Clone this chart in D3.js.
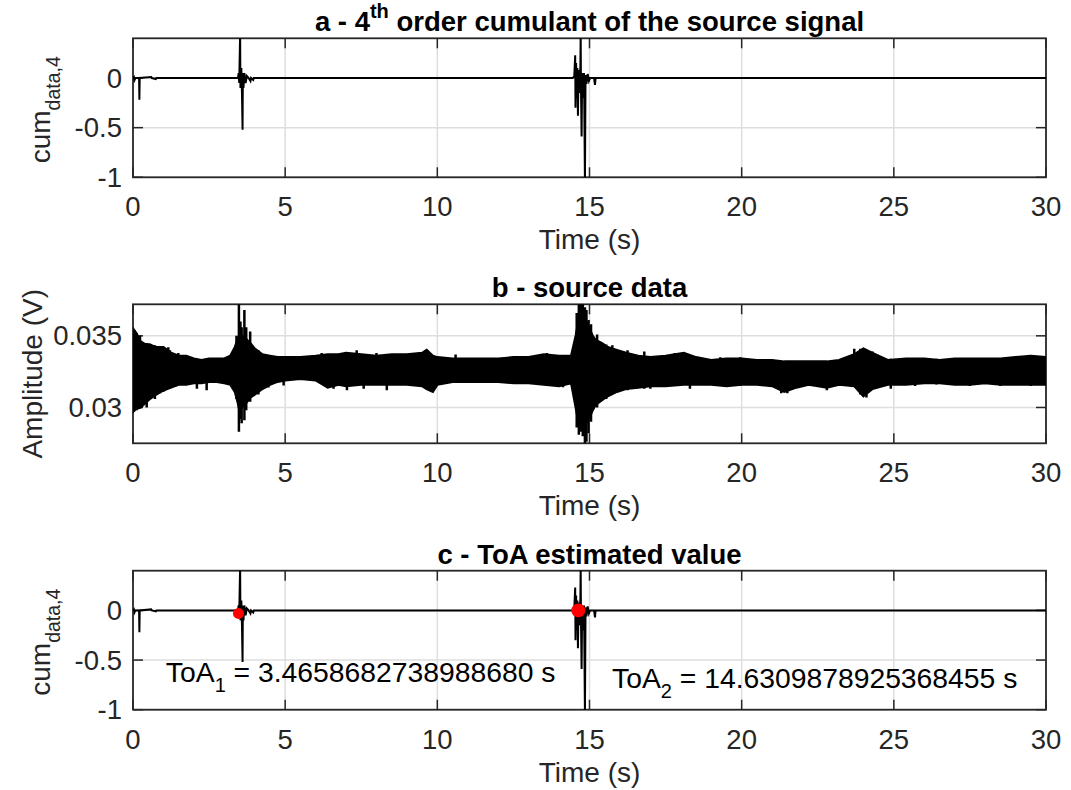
<!DOCTYPE html>
<html>
<head>
<meta charset="utf-8">
<script src="https://cdn.jsdelivr.net/npm/d3@7"></script>
<style>
    body { margin: 0; background: #fff; }
    svg text { font-family: "Liberation Sans", Arial, Helvetica, sans-serif; fill: #262626; }
</style>
</head>
<body>
<div class="container"></div>
<script>
// axis ticks
var timeTicks = [0, 5, 10, 15, 20, 25, 30];
var cumTicks = [-1, -0.5, 0];
var cumTickLabels = ["-1", "-0.5", "0"];
var ampTicks = [0.03, 0.035];
var ampTickLabels = ["0.03", "0.035"];

// 4th order cumulant
var cumTime = [0, 0.03, 0.05, 0.08, 0.2, 0.21, 0.22, 0.6, 0.62, 0.75, 0.77,
    3.45, 3.47, 3.49, 3.52, 3.53, 3.56, 3.58, 3.6, 3.61, 3.63, 3.66, 3.7, 3.74, 3.8, 3.86, 3.88, 3.95, 3.97,
    14.45, 14.5, 14.53, 14.54, 14.56, 14.58, 14.6, 14.62, 14.64, 14.66, 14.7, 14.71, 14.72, 14.74, 14.76,
    14.79, 14.82, 14.85, 14.87, 14.9, 14.94, 14.98, 15.02, 15.15, 15.18, 15.2, 30];
var cumValue = [0, 0.01, -0.02, 0, 0, -0.22, 0, 0.01, 0, -0.01, 0,
    0, 0.05, -0.05, 0.45, -0.1, 0.1, -0.15, -0.52, 0.05, -0.1, 0.05, -0.05, 0.02, 0, -0.03, 0, -0.02, 0,
    0, 0.02, 0.23, -0.3, 0.15, -0.2, 0.1, -0.38, 0.08, -0.15, 0.12, 0.45, -0.1, -0.59, 0.05,
    -0.2, 0.05, -1.05, 0.03, -0.06, 0.04, -0.03, 0, 0, -0.07, 0, 0];

// source data envelope (V)
var ampTime = [0, 0.1, 0.25, 0.4, 0.55, 0.75, 1, 1.25, 1.5, 1.75, 2, 2.25, 2.5, 2.75, 3, 3.2, 3.35, 3.45, 3.5,
    3.58, 3.66, 3.75, 3.85, 4, 4.25, 4.5, 4.75, 5, 5.5, 6, 6.4, 6.75, 7, 7.5, 8, 8.5, 9, 9.5, 9.65, 9.85,
    10, 10.5, 11, 11.5, 12, 12.5, 13, 13.5, 14, 14.4, 14.55, 14.62, 14.7, 14.8, 14.88, 15, 15.1, 15.2,
    15.4, 15.6, 15.9, 16.2, 16.6, 17, 17.5, 18.1, 18.5, 19, 19.5, 20, 20.5, 21, 21.4, 21.8, 22.2, 22.8,
    23.2, 23.7, 24, 24.3, 24.8, 25.4, 26, 26.5, 27, 27.5, 28, 28.5, 29, 29.5, 30];
var ampUpper = [0.0355, 0.0352, 0.0346, 0.0344, 0.0344, 0.0342, 0.0342, 0.0338, 0.0336, 0.0336, 0.0334,
    0.0333, 0.0334, 0.0334, 0.0334, 0.0336, 0.0342, 0.0348, 0.0351, 0.035, 0.0349, 0.0347, 0.0345, 0.0341,
    0.0337, 0.0336, 0.0335, 0.0335, 0.0335, 0.0336, 0.0337, 0.0337, 0.0338, 0.0337, 0.0336, 0.0337, 0.0337,
    0.0338, 0.034, 0.0336, 0.0335, 0.0334, 0.0334, 0.0334, 0.0334, 0.0335, 0.0335, 0.0337, 0.0336, 0.0336,
    0.035, 0.0358, 0.0362, 0.0362, 0.036, 0.0355, 0.035, 0.0347, 0.0345, 0.0342, 0.034, 0.0338, 0.0336,
    0.0335, 0.0336, 0.0338, 0.0335, 0.0333, 0.0334, 0.0334, 0.0333, 0.0333, 0.0332, 0.0332, 0.0332, 0.0332,
    0.0333, 0.0337, 0.0341, 0.0338, 0.0333, 0.0334, 0.0334, 0.0333, 0.0334, 0.0334, 0.0334, 0.0334, 0.0335,
    0.0336, 0.0335];
var ampLower = [0.0297, 0.0299, 0.03, 0.0303, 0.0306, 0.0309, 0.0312, 0.0314, 0.0316, 0.0316, 0.0317,
    0.0317, 0.0318, 0.0318, 0.0317, 0.0316, 0.0311, 0.0303, 0.0298, 0.03, 0.0302, 0.0304, 0.0307, 0.0309,
    0.0313, 0.0316, 0.0318, 0.0319, 0.032, 0.0319, 0.0314, 0.0316, 0.0315, 0.0316, 0.0316, 0.0316, 0.0316,
    0.0315, 0.0313, 0.0311, 0.0316, 0.0318, 0.0318, 0.0318, 0.0318, 0.0317, 0.0317, 0.0316, 0.0315, 0.0317,
    0.03, 0.0292, 0.0288, 0.0287, 0.0289, 0.0293, 0.0298, 0.0302, 0.0305, 0.0308, 0.0311, 0.0313, 0.0314,
    0.0315, 0.0315, 0.0316, 0.0316, 0.0316, 0.0315, 0.0316, 0.0316, 0.0315, 0.0311, 0.0314, 0.0316, 0.0314,
    0.0316, 0.0315, 0.0308, 0.0313, 0.0316, 0.0316, 0.0317, 0.0317, 0.0316, 0.0316, 0.0317, 0.0316, 0.0316,
    0.0316, 0.0316];

// single excursions poking out of the band (V)
var spikeTime = [0.05, 0.12, 0.23, 0.45, 0.72, 0.89, 1, 1.16, 1.21, 1.49, 2.1, 2.42, 3.19,
    3.4, 3.48, 3.53, 3.57, 3.66, 3.72, 3.85, 4.12,
    4.45, 4.95, 6.2, 6.53, 6.59, 6.8, 7.03, 7.35, 7.58, 8, 8.34, 9.62, 9.85, 10.6, 13.6, 14.13,
    14.58, 14.65, 14.72, 14.78, 14.85, 14.9, 14.97, 15.05, 15.25,
    15.55, 15.75, 16.25, 16.8, 17, 17.8, 18, 18.3, 19.3, 19.95, 21.3, 21.5, 22.8, 23.7, 23.9, 24.1, 24.3,
    24.9, 25.7, 26.4, 27.5, 28.5, 29.5, 29.6];
var spikeTop = [0.0354, 0.0352, 0.035, 0.0345, 0.03435, 0.0342, 0.0342, 0.0342, 0.034, 0.0338, 0.0334,
    0.0334, 0.0335,
    0.035, 0.0372, 0.036, 0.0356, 0.0368, 0.0356, 0.0353, 0.034,
    0.0336, 0.0335, 0.0338, 0.0337, 0.0336, 0.0338, 0.0337, 0.034, 0.0337,
    0.0338, 0.0336, 0.034, 0.0335, 0.0337, 0.0338, 0.0335,
    0.0366, 0.0372, 0.0372, 0.0372, 0.037, 0.0368, 0.0361, 0.0358, 0.0351,
    0.0344, 0.03435, 0.034, 0.0339, 0.0335,
    0.0338, 0.0338, 0.0335, 0.0335, 0.0335, 0.0332, 0.0332, 0.0332, 0.0341, 0.0341, 0.034, 0.0339, 0.0334,
    0.0334, 0.0334, 0.0334, 0.0334, 0.0336, 0.0336];
var spikeBottom = [0.0298, 0.0298, 0.0301, 0.03, 0.0306, 0.031, 0.0311, 0.0313, 0.0313, 0.0316, 0.0313,
    0.0312, 0.0316,
    0.0306, 0.0283, 0.0292, 0.0289, 0.0291, 0.0298, 0.0304, 0.0309,
    0.0314, 0.03154, 0.0317, 0.0316, 0.0313, 0.0316, 0.0312, 0.0316, 0.0313,
    0.0316, 0.0312, 0.0314, 0.0311, 0.0317, 0.0315, 0.03142,
    0.0286, 0.0281, 0.0283, 0.028, 0.0275, 0.0276, 0.0282, 0.029, 0.03,
    0.0306, 0.031, 0.0312, 0.0313, 0.0313,
    0.0315, 0.0316, 0.0313, 0.0315, 0.0315, 0.031, 0.031, 0.0312, 0.0315, 0.0309, 0.0307, 0.0313, 0.0313,
    0.0315, 0.0316, 0.0315, 0.0315, 0.0315, 0.0316];

// estimated ToA
var toaTime = [3.4658682738988680, 14.6309878925368455];
var toaValue = [-0.03, 0];
var toaText = ["3.4658682738988680", "14.6309878925368455"];
var toaTextTime = [1.08, 15.74];
var toaTextValue = [-0.72, -0.78];

var width = 1071, height = 790;
var left = 133, right = 1046, panelHeight = 139;
var panelTops = [38.3, 304.3, 570.7];
var axisColor = "#262626";
var gridColor = "#dedede";

var svg = d3.select(".container")
    .append("svg")
    .attr("width", width)
    .attr("height", height);

var x = d3.scaleLinear().domain([0, 30]).range([left, right]);

function makePanel(idx, yDomain, yTicks, yTickLabels) {
    var top = panelTops[idx];
    var bottom = top + panelHeight;
    var y = d3.scaleLinear().domain(yDomain).range([bottom, top]);
    var g = svg.append("g").attr("class", "panel" + idx);

    g.append("clipPath").attr("id", "clip" + idx)
        .append("rect")
        .attr("x", left).attr("y", top)
        .attr("width", right - left).attr("height", panelHeight);

    // grid
    g.selectAll(".vgrid").data(timeTicks.slice(1, -1)).enter()
        .append("line")
        .attr("x1", function(d) { return x(d); })
        .attr("x2", function(d) { return x(d); })
        .attr("y1", top).attr("y2", bottom)
        .attr("stroke", gridColor).attr("stroke-width", 1.5);
    g.selectAll(".hgrid").data(yTicks).enter()
        .append("line")
        .attr("x1", left).attr("x2", right)
        .attr("y1", function(d) { return y(d); })
        .attr("y2", function(d) { return y(d); })
        .attr("stroke", gridColor).attr("stroke-width", 1.5);

    // ticks (inside, on all four sides)
    var tl = 10;
    timeTicks.forEach(function(t) {
        g.append("line").attr("x1", x(t)).attr("x2", x(t)).attr("y1", bottom).attr("y2", bottom - tl)
            .attr("stroke", axisColor).attr("stroke-width", 1.5);
        g.append("line").attr("x1", x(t)).attr("x2", x(t)).attr("y1", top).attr("y2", top + tl)
            .attr("stroke", axisColor).attr("stroke-width", 1.5);
    });
    yTicks.forEach(function(v) {
        g.append("line").attr("x1", left).attr("x2", left + tl).attr("y1", y(v)).attr("y2", y(v))
            .attr("stroke", axisColor).attr("stroke-width", 1.5);
        g.append("line").attr("x1", right).attr("x2", right - tl).attr("y1", y(v)).attr("y2", y(v))
            .attr("stroke", axisColor).attr("stroke-width", 1.5);
    });

    // box
    g.append("rect")
        .attr("x", left).attr("y", top)
        .attr("width", right - left).attr("height", panelHeight)
        .attr("fill", "none").attr("stroke", axisColor).attr("stroke-width", 1.8);

    // tick labels
    g.selectAll(".xlab").data(timeTicks).enter()
        .append("text")
        .attr("x", function(d) { return x(d); })
        .attr("y", bottom + 39)
        .attr("text-anchor", "middle")
        .style("font-size", "27.5px")
        .text(function(d) { return d; });
    g.selectAll(".ylab").data(yTicks).enter()
        .append("text")
        .attr("x", left - 11)
        .attr("y", function(d) { return y(d) + 9.5; })
        .attr("text-anchor", "end")
        .style("font-size", "27.5px")
        .text(function(d, i) { return yTickLabels[i]; });

    g.append("text")
        .attr("x", (left + right) / 2)
        .attr("y", bottom + 72)
        .attr("text-anchor", "middle")
        .style("font-size", "28px")
        .text("Time (s)");

    return { g: g, y: y, top: top, bottom: bottom };
}

function addTitle(p, parts) {
    var t = p.g.append("text")
        .attr("x", (left + right) / 2)
        .attr("y", p.top - 7)
        .attr("text-anchor", "middle")
        .style("font-size", "27.5px")
        .style("font-weight", "bold")
        .style("fill", "#000");
    parts.forEach(function(s) {
        t.append("tspan").attr("dy", s.dy || 0).style("font-size", s.size || "27.5px").text(s.text);
    });
}

function cumYLabel(p) {
    var t = p.g.append("text")
        .attr("transform", "translate(50," + ((p.top + p.bottom) / 2 + 2) + ") rotate(-90)")
        .attr("text-anchor", "middle")
        .style("font-size", "28px");
    t.append("tspan").text("cum");
    t.append("tspan").attr("dy", 10).style("font-size", "19.5px").text("data,4");
}

function drawCumulant(p, idx) {
    var line = d3.line()
        .x(function(d, i) { return x(cumTime[i]); })
        .y(function(d) { return p.y(d); });
    p.g.append("path")
        .attr("clip-path", "url(#clip" + idx + ")")
        .attr("d", line(cumValue))
        .attr("fill", "none")
        .attr("stroke", "#000")
        .attr("stroke-width", 2);
}

// a - cumulant
var pa = makePanel(0, [-1, 0.4], cumTicks, cumTickLabels);
drawCumulant(pa, 0);
addTitle(pa, [{ text: "a - 4" }, { text: "th", dy: -13, size: "20px" }, { text: " order cumulant of the source signal", dy: 13 }]);
cumYLabel(pa);

// b - source data
var pb = makePanel(1, [0.0275, 0.0372], ampTicks, ampTickLabels);
var area = d3.area()
    .x(function(d, i) { return x(ampTime[i]); })
    .y0(function(d, i) { return pb.y(ampLower[i]); })
    .y1(function(d) { return pb.y(d); });
pb.g.append("path")
    .attr("clip-path", "url(#clip1)")
    .attr("d", area(ampUpper))
    .attr("fill", "#000")
    .attr("stroke", "#000")
    .attr("stroke-width", 2.5);
pb.g.append("g")
    .attr("clip-path", "url(#clip1)")
    .selectAll("line")
    .data(spikeTime)
    .enter()
    .append("line")
    .attr("x1", function(d) { return x(d); })
    .attr("x2", function(d) { return x(d); })
    .attr("y1", function(d, i) { return pb.y(spikeTop[i]); })
    .attr("y2", function(d, i) { return pb.y(spikeBottom[i]); })
    .attr("stroke", "#000")
    .attr("stroke-width", 2.5);
addTitle(pb, [{ text: "b - source data" }]);
pb.g.append("text")
    .attr("transform", "translate(42," + ((pb.top + pb.bottom) / 2) + ") rotate(-90)")
    .attr("text-anchor", "middle")
    .style("font-size", "28px")
    .text("Amplitude (V)");

// c - ToA
var pc = makePanel(2, [-1, 0.4], cumTicks, cumTickLabels);
drawCumulant(pc, 2);
addTitle(pc, [{ text: "c - ToA estimated value" }]);
cumYLabel(pc);

pc.g.selectAll(".toa").data(toaTime).enter()
    .append("circle")
    .attr("cx", function(d) { return x(d); })
    .attr("cy", function(d, i) { return pc.y(toaValue[i]); })
    .attr("r", function(d, i) { return i === 0 ? 5.5 : 7; })
    .attr("fill", "#ff0000");

toaText.forEach(function(s, i) {
    var t = pc.g.append("text")
        .attr("x", x(toaTextTime[i]))
        .attr("y", pc.y(toaTextValue[i]))
        .style("font-size", "28.3px")
        .style("fill", "#000");
    t.append("tspan").text("ToA");
    t.append("tspan").attr("dy", 10).style("font-size", "20px").text(i + 1);
    t.append("tspan").attr("dy", -10).text(" = " + s + " s");
});
</script>
</body>
</html>
